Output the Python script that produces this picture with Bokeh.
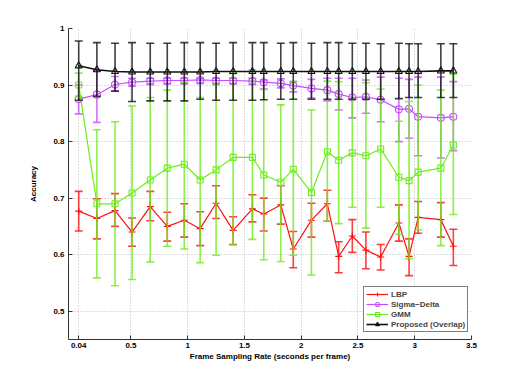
from bokeh.plotting import figure
from bokeh.models import FixedTicker, ColumnDataSource
from bokeh.embed import file_html
from bokeh.resources import INLINE

# ---------------- data ----------------
x = [0.04, 0.20, 0.36, 0.51, 0.67, 0.82, 0.97, 1.11, 1.25, 1.40, 1.57, 1.67, 1.82,
     1.93, 2.09, 2.23, 2.33, 2.45, 2.57, 2.70, 2.86, 2.95, 3.03, 3.23, 3.34]

lbp_mean = [0.677, 0.664, 0.678, 0.640, 0.685, 0.650, 0.661, 0.646, 0.691, 0.643, 0.681, 0.672, 0.688,
            0.610, 0.661, 0.690, 0.597, 0.633, 0.608, 0.596, 0.656, 0.597, 0.666, 0.662, 0.615]
lbp_upper = [0.712, 0.699, 0.708, 0.665, 0.712, 0.675, 0.690, 0.676, 0.722, 0.667, 0.706, 0.700, 0.722,
             0.641, 0.691, 0.714, 0.623, 0.662, 0.640, 0.618, 0.688, 0.628, 0.694, 0.692, 0.645]
lbp_lower = [0.642, 0.628, 0.650, 0.615, 0.660, 0.624, 0.631, 0.616, 0.664, 0.618, 0.658, 0.642, 0.654,
             0.577, 0.631, 0.659, 0.568, 0.604, 0.575, 0.573, 0.624, 0.563, 0.638, 0.631, 0.581]

sd_mean = [0.875, 0.883, 0.901, 0.905, 0.907, 0.908, 0.908, 0.909, 0.908, 0.908, 0.907, 0.905, 0.903,
           0.899, 0.894, 0.891, 0.884, 0.878, 0.879, 0.874, 0.857, 0.858, 0.844, 0.842, 0.844]
sd_upper = [0.900, 0.925, 0.915, 0.912, 0.912, 0.912, 0.912, 0.912, 0.912, 0.912, 0.912, 0.909, 0.911,
            0.906, 0.910, 0.912, 0.912, 0.912, 0.909, 0.914, 0.912, 0.910, 0.914, 0.914, 0.906]
sd_lower = [0.849, 0.834, 0.890, 0.898, 0.901, 0.902, 0.902, 0.903, 0.902, 0.902, 0.901, 0.893, 0.895,
            0.888, 0.877, 0.872, 0.856, 0.842, 0.850, 0.835, 0.800, 0.806, 0.775, 0.771, 0.784]

gmm_mean = [0.900, 0.690, 0.690, 0.709, 0.732, 0.753, 0.760, 0.732, 0.750, 0.772, 0.772, 0.741, 0.728,
            0.751, 0.710, 0.782, 0.767, 0.780, 0.775, 0.787, 0.737, 0.731, 0.746, 0.753, 0.794]
gmm_upper = [0.921, 0.821, 0.835, 0.863, 0.878, 0.891, 0.905, 0.878, 0.900, 0.920, 0.927, 0.892, 0.865,
             0.906, 0.856, 0.907, 0.906, 0.875, 0.904, 0.893, 0.836, 0.871, 0.900, 0.891, 0.919]
gmm_lower = [0.880, 0.559, 0.545, 0.556, 0.587, 0.615, 0.610, 0.586, 0.599, 0.617, 0.627, 0.591, 0.588,
             0.599, 0.564, 0.659, 0.655, 0.684, 0.647, 0.684, 0.636, 0.593, 0.644, 0.616, 0.671]

prop_mean = [0.934, 0.927, 0.924, 0.923, 0.923, 0.923, 0.923, 0.923, 0.924, 0.924, 0.924, 0.924, 0.924,
             0.924, 0.924, 0.924, 0.924, 0.924, 0.924, 0.924, 0.924, 0.924, 0.924, 0.925, 0.925]
prop_upper = [0.978, 0.975, 0.974, 0.975, 0.974, 0.974, 0.975, 0.975, 0.974, 0.975, 0.975, 0.975, 0.974,
              0.975, 0.974, 0.975, 0.975, 0.974, 0.974, 0.973, 0.974, 0.973, 0.973, 0.973, 0.973]
prop_lower = [0.873, 0.880, 0.889, 0.871, 0.872, 0.872, 0.872, 0.875, 0.873, 0.873, 0.873, 0.874, 0.875,
              0.875, 0.875, 0.875, 0.875, 0.875, 0.875, 0.875, 0.876, 0.878, 0.878, 0.878, 0.878]

series_names = ["LBP", "Sigma\u2212Delta", "GMM", "Proposed (Overlap)"]

xticks = [0.04, 0.5, 1.0, 1.5, 2.0, 2.5, 3.0, 3.5]
xtick_labels = ["0.04", "0.5", "1", "1.5", "2", "2.5", "3", "3.5"]
yticks = [0.5, 0.6, 0.7, 0.8, 0.9, 1.0]
ytick_labels = ["0.5", "0.6", "0.7", "0.8", "0.9", "1"]

# ---------------- figure ----------------
FONT = "Liberation Sans"

p = figure(width=512, height=374, x_range=(-0.05, 3.5), y_range=(0.45, 1.0),
           output_backend="svg", toolbar_location=None,
           min_border_left=68, min_border_right=41, min_border_top=28, min_border_bottom=35)
p.outline_line_color = None
p.background_fill_color = "white"
p.border_fill_color = "white"

series = [
    (series_names[0], lbp_mean, lbp_lower, lbp_upper, "#ff1010", "cross", 7, 1.2),
    (series_names[1], sd_mean, sd_lower, sd_upper, "#c84dff", "circle", 7, 1.2),
    (series_names[2], gmm_mean, gmm_lower, gmm_upper, "#6cee1a", "square", 6, 1.2),
    (series_names[3], prop_mean, prop_lower, prop_upper, "#111111", "triangle", 7, 1.6),
]

for name, m, lo, up, col, mk, ms, lw in series:
    src = ColumnDataSource(dict(x=x, m=m, lo=lo, up=up))
    p.segment(x0="x", y0="lo", x1="x", y1="up", source=src,
              line_color=col, line_width=1.6, line_alpha=0.8)
    p.scatter(x="x", y="lo", source=src, marker="dash", size=8,
              line_color=col, line_width=1.6, line_alpha=0.8)
    p.scatter(x="x", y="up", source=src, marker="dash", size=8,
              line_color=col, line_width=1.6, line_alpha=0.8)
    p.line(x="x", y="m", source=src, line_color=col, line_width=lw, legend_label=name)
    p.scatter(x="x", y="m", source=src, marker=mk, size=ms, line_color=col,
              fill_color=None, line_width=1.1, legend_label=name)

# ---------------- axes ----------------
p.xaxis.ticker = FixedTicker(ticks=xticks)
p.yaxis.ticker = FixedTicker(ticks=yticks)
p.xaxis.major_label_overrides = {t: s for t, s in zip(xticks, xtick_labels)}
p.yaxis.major_label_overrides = {t: s for t, s in zip(yticks, ytick_labels)}

for ax in (p.xaxis, p.yaxis):
    ax.axis_line_color = "#333333"
    ax.major_tick_line_color = "#333333"
    ax.major_tick_in = 4
    ax.major_tick_out = 0
    ax.minor_tick_line_color = None
    ax.major_label_text_font = FONT
    ax.major_label_text_font_style = "bold"
    ax.major_label_text_font_size = "8px"
    ax.major_label_text_color = "black"
    ax.axis_label_text_font = FONT
    ax.axis_label_text_font_style = "bold"
    ax.axis_label_text_font_size = "8px"
    ax.axis_label_text_color = "black"

p.xaxis.axis_label = "Frame Sampling Rate (seconds per frame)"
p.yaxis.axis_label = "Accuracy"
p.xaxis.major_label_standoff = 3
p.xaxis.axis_label_standoff = 1
p.yaxis.major_label_standoff = 4
p.yaxis.axis_label_standoff = 12

p.xgrid.ticker = FixedTicker(ticks=xticks)
p.ygrid.ticker = FixedTicker(ticks=yticks)
for g in (p.xgrid, p.ygrid):
    g.grid_line_color = "#bdbdbd"
    g.grid_line_dash = "1 2"
    g.grid_line_width = 1

# ---------------- legend ----------------
lg = p.legend[0]
lg.location = (295, 7)
lg.margin = 0
lg.padding = 2
lg.spacing = 0
lg.label_height = 10
lg.glyph_height = 10
lg.glyph_width = 22
lg.label_standoff = 3
lg.label_text_font = FONT
lg.label_text_font_style = "bold"
lg.label_text_font_size = "8px"
lg.border_line_color = "black"
lg.border_line_width = 1
lg.background_fill_color = "white"
lg.background_fill_alpha = 1.0

open("out.html", "w").write(file_html(p, INLINE))
